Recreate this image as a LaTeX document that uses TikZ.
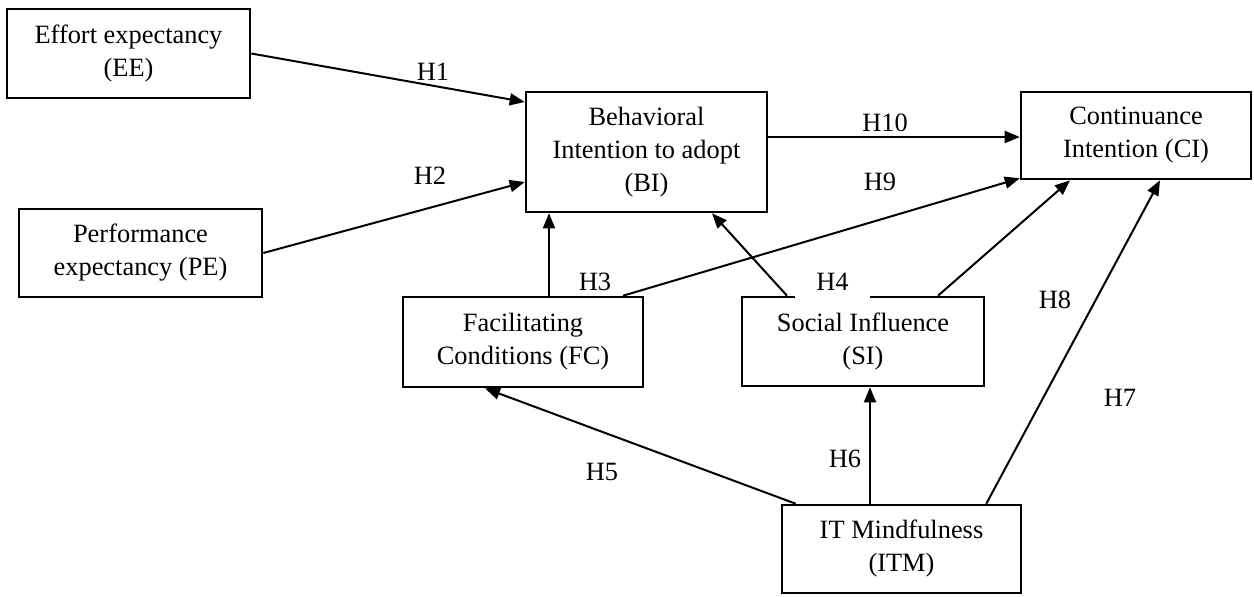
\documentclass[tikz,border=0pt]{standalone}
\usepackage{fontspec}
\setmainfont{Liberation Serif}
\usetikzlibrary{arrows.meta, positioning}

\begin{document}
\begin{tikzpicture}[x=0.5pt, y=-0.5pt, >={Triangle[length=7.5pt, width=6pt]},
  box/.style={rectangle, draw, line width=1.3pt, fill=white, align=center, inner sep=2pt,
    minimum width=#1, font=\fontsize{13.2}{16.5}\selectfont},
  box/.default=121pt,
  hyp/.style={font=\fontsize{13.2}{16}\selectfont, inner sep=1pt},
  arr/.style={->, line width=1pt}]
  \useasboundingbox (0,0) rectangle (1254,596);
  % constructs
  \node[box=121.5pt, minimum height=44.5pt] (ee) at (128.5,53.5) {Effort expectancy\\(EE)};
  \node[box=121.5pt, minimum height=44pt] (pe) at (140.5,253) {Performance\\expectancy (PE)};
  \node[box=120.5pt, minimum height=60pt] (bi) at (646.5,152) {Behavioral\\Intention to adopt\\(BI)};
  \node[box=115pt, minimum height=43.5pt] (ci) at (1136,135.5) {Continuance\\Intention (CI)};
  \node[box=120pt, minimum height=45pt] (fc) at (523,342) {Facilitating\\Conditions (FC)};
  \node[box=121pt, minimum height=44.5pt] (si) at (863,341.5) {Social Influence\\(SI)};
  \node[box=119.5pt, minimum height=44pt] (itm) at (901.5,549) {IT Mindfulness\\(ITM)};
  % paths
  \draw[arr] (ee.east) -- ([yshift=25pt]bi.west);
  \draw[arr] (pe.east) -- ([yshift=-15pt]bi.west);
  \draw[arr] ([xshift=13pt]fc.north) -- ([xshift=13pt]fc.north |- bi.south);
  \draw[arr] ([xshift=-38pt]si.north) -- ([xshift=32.75pt]bi.south);
  \draw[arr] ([xshift=37.5pt]si.north) -- ([xshift=-33pt]ci.south);
  \draw[arr] ([xshift=50pt]fc.north) -- ([yshift=1pt]ci.south west);
  \draw[arr] ([yshift=7.5pt]bi.east) -- ([yshift=7.5pt]bi.east -| ci.west);
  \draw[arr] ([xshift=-15.75pt]itm.north) -- ([xshift=-15.75pt]itm.north |- si.south);
  \draw[arr] ([xshift=7.5pt]itm.north west) -- ([xshift=-19pt]fc.south);
  \draw[arr] ([xshift=-18pt]itm.north east) -- ([xshift=12pt]ci.south);
  % hypotheses
  \node[hyp] (h1) at (433,72) {H1};
  \node[hyp] (h2) at (430,176) {H2};
  \node[hyp] (h3) at (595,282) {H3};
  \node[hyp, fill=white, minimum width=37.5pt, minimum height=16pt] (h4) at (832.5,282) {H4};
  \node[hyp] (h5) at (602,472) {H5};
  \node[hyp] (h6) at (845,459) {H6};
  \node[hyp] (h7) at (1120,398) {H7};
  \node[hyp] (h8) at (1055,300) {H8};
  \node[hyp] (h9) at (880,182) {H9};
  \node[hyp] (h10) at (885,123) {H10};
\end{tikzpicture}
\end{document}
